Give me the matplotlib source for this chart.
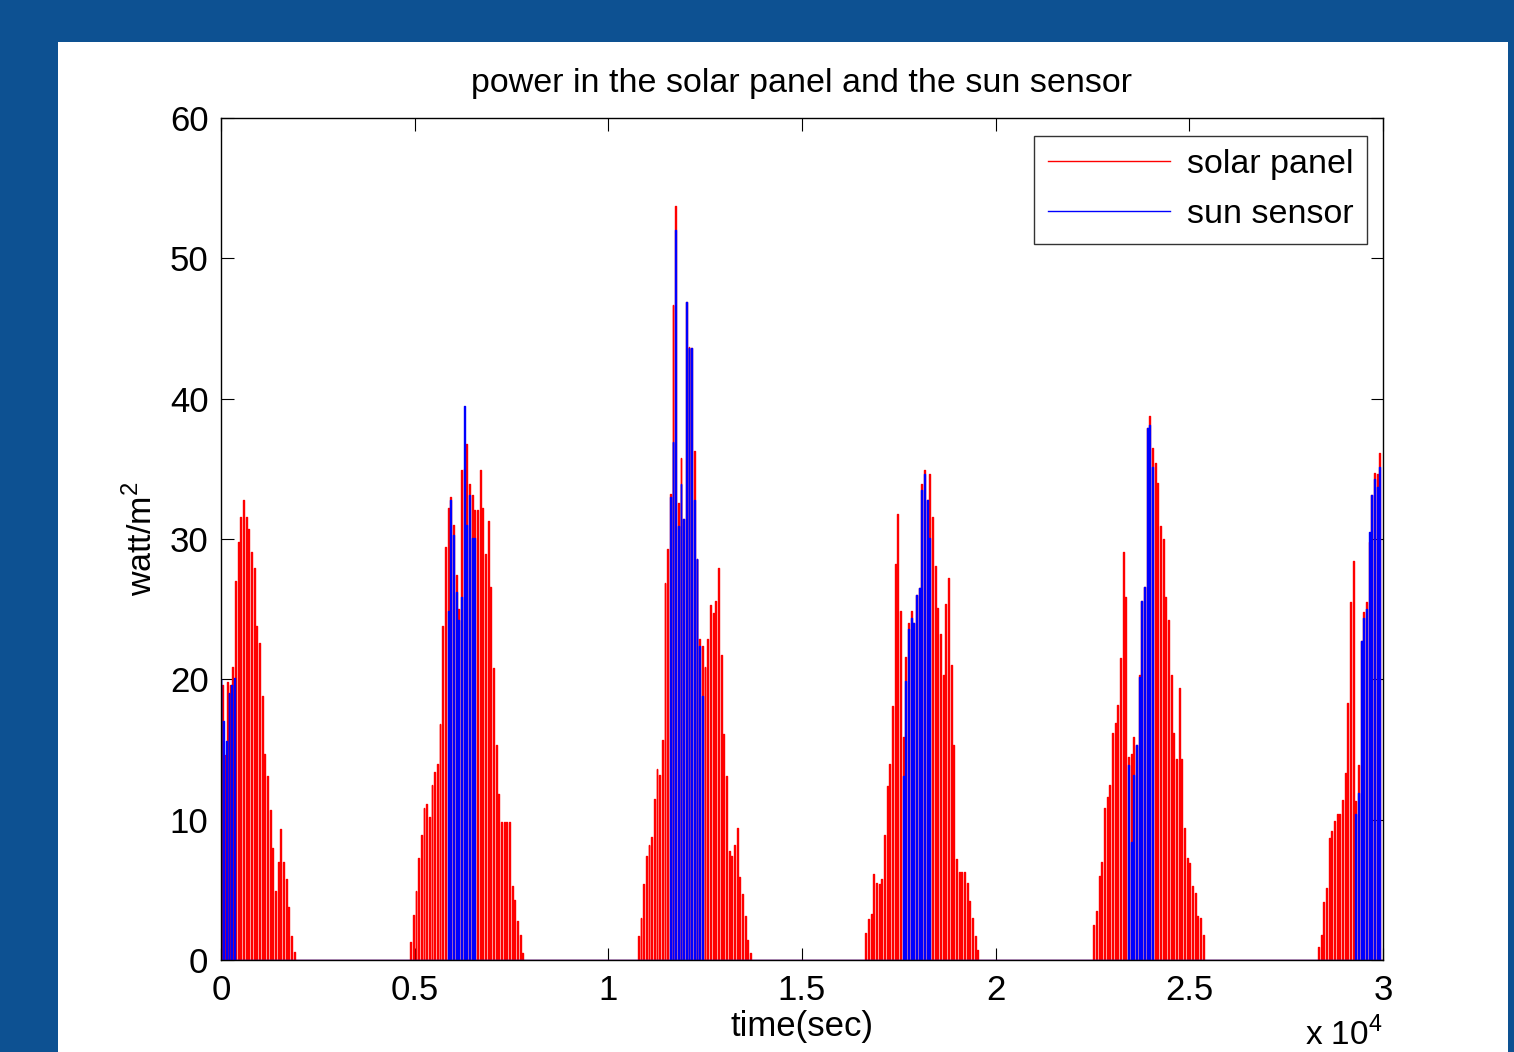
"""Solar panel / sun sensor power plot"""

from matplotlib import pyplot as plt
import numpy as np

# sample interval (s) of the spikes inside one pass
dt = 68.9

# start time (s) of the first red spike of each pass
red_t0 = [30, 4898, 10775, 16646, 22533, 28333]
red_peaks = [
    [19.6, 14.6, 19.8, 19.6, 20.9, 27.0, 29.8, 31.6, 32.8, 31.6, 30.7, 29.1,
     27.9, 23.8, 22.6, 18.8, 14.7, 13.1, 10.7, 8.0, 4.9, 7.0, 9.3, 7.0, 5.8,
     3.8, 1.7, 0.6],
    [1.3, 3.2, 4.9, 7.3, 8.9, 10.8, 11.1, 10.2, 12.5, 13.4, 14.0, 16.8, 23.8,
     29.4, 32.2, 33.0, 31.0, 27.4, 25.0, 34.9, 35.0, 36.8, 33.9, 33.1, 32.1,
     32.1, 34.9, 32.2, 28.9, 31.3, 26.6, 20.8, 15.3, 11.8, 9.8, 9.8, 9.8, 9.8,
     5.3, 4.3, 2.8, 1.8, 0.5],
    [1.7, 3.0, 5.4, 7.4, 8.2, 8.8, 11.5, 13.6, 13.2, 15.7, 26.9, 29.3, 33.2,
     46.7, 53.7, 32.6, 35.8, 31.4, 46.9, 43.7, 43.6, 36.3, 28.6, 22.9, 22.4,
     20.9, 22.9, 25.3, 24.7, 25.6, 27.9, 21.7, 16.1, 13.1, 7.8, 7.4, 8.2, 9.4,
     5.9, 4.7, 3.1, 1.4, 0.5],
    [1.9, 2.9, 3.3, 6.1, 5.5, 5.4, 5.8, 8.9, 12.4, 14.0, 18.1, 28.2, 31.8,
     24.9, 15.9, 21.6, 24.0, 24.9, 24.0, 26.0, 26.5, 33.9, 34.9, 32.8, 34.6,
     31.6, 28.1, 25.1, 23.2, 20.3, 25.4, 27.2, 21.0, 15.3, 7.2, 6.3, 6.3, 6.3,
     5.5, 4.2, 3.0, 1.7, 0.7],
    [2.5, 3.5, 6.0, 7.0, 10.8, 11.6, 12.5, 16.2, 16.9, 18.2, 21.5, 29.1, 25.9,
     14.5, 14.7, 15.9, 15.3, 20.3, 25.6, 26.6, 37.9, 38.8, 36.5, 35.4, 34.0,
     30.9, 30.0, 25.9, 24.2, 20.3, 16.2, 14.3, 19.4, 14.3, 9.4, 7.3, 6.9, 5.3,
     4.8, 3.1, 3.0, 1.8],
    [0.9, 1.8, 4.1, 5.1, 8.7, 9.2, 9.9, 10.4, 10.4, 11.4, 13.3, 18.3, 25.5,
     28.4, 11.3, 13.9, 22.7, 24.8, 25.5, 29.8, 33.1, 34.7, 34.6, 36.1],
]

# blue spikes start this many samples after the first red spike of the pass
blue_t0 = [0, 4898 + 14 * dt, 10775 + 12 * dt, 16646 + 14 * dt,
           22533 + 13 * dt, 28333 + 14 * dt]
blue_peaks = [
    [20.0, 17.0, 15.6, 19.0, 19.6, 20.1],
    [24.9, 32.8, 30.3, 26.2, 24.2, 25.9, 39.5, 31.0, 33.1, 30.1, 30.1],
    [33.0, 36.9, 52.0, 30.9, 33.9, 31.4, 46.9, 43.6, 43.6, 32.8, 28.6, 22.4,
     18.8],
    [13.1, 19.9, 23.6, 24.4, 24.0, 26.0, 26.5, 33.5, 34.6, 32.8, 30.1],
    [13.9, 8.4, 13.2, 15.3, 20.2, 25.6, 26.6, 37.9, 38.1, 35.1],
    [10.4, 11.9, 22.7, 24.4, 25.0, 30.5, 33.1, 34.3, 33.7, 35.1],
]

t_end = 30000


def pulse_series(starts, peaks, width=22.0):
    """Turn spike heights into a 0 -> peak -> 0 time series"""
    t = [0.0]
    y = [0.0]
    for t0, hs in zip(starts, peaks):
        for k, h in enumerate(hs):
            tc = t0 + k * dt
            t += [tc - width / 2, tc - width / 2, tc + width / 2,
                  tc + width / 2]
            y += [0.0, h, h, 0.0]
    t.append(t_end)
    y.append(0.0)
    t = np.clip(np.array(t), 0, t_end)
    return t, np.array(y)


def generate_plot():
    plt.rcParams['font.family'] = ['Liberation Sans', 'DejaVu Sans']
    plt.rcParams['mathtext.fontset'] = 'custom'
    plt.rcParams['mathtext.rm'] = 'Liberation Sans'
    fig = plt.figure(figsize=(15.14, 10.52), dpi=100)
    fig.patch.set_facecolor('#0d5192')
    # white sheet behind the plot
    bg = fig.add_axes([58 / 1514, 0, 1450 / 1514, 1010 / 1052], zorder=-5)
    bg.set_facecolor('white')
    bg.set_xticks([])
    bg.set_yticks([])
    for s in bg.spines.values():
        s.set_visible(False)

    ax = fig.add_axes([221 / 1514, 92 / 1052, 1162 / 1514, 842 / 1052])

    tr, yr = pulse_series(red_t0, red_peaks)
    tb, yb = pulse_series(blue_t0, blue_peaks)
    ax.plot(tr, yr, color='red', lw=1.0, label='solar panel')
    ax.plot(tb, yb, color='blue', lw=1.0, label='sun sensor')

    ax.set_xlim(0, 30000)
    ax.set_ylim(0, 60)
    ax.set_xticks(np.arange(0, 30001, 5000))
    ax.set_xticklabels(['0', '0.5', '1', '1.5', '2', '2.5', '3'])
    ax.set_yticks(np.arange(0, 61, 10))
    ax.tick_params(direction='in', top=True, right=True, length=9,
                   labelsize=25)
    ax.tick_params(axis='x', pad=10)
    ax.tick_params(axis='y', pad=9)
    for s in ax.spines.values():
        s.set_linewidth(1.0)

    ax.set_title('power in the solar panel and the sun sensor', fontsize=24.5,
                 pad=19)
    ax.set_xlabel('time(sec)', fontsize=25, labelpad=2)
    ax.set_ylabel(r'watt/m$^\mathrm{2}$', fontsize=24.5, labelpad=8)
    ax.text(1.0, -0.068, r'x 10$^\mathrm{4}$', transform=ax.transAxes,
            fontsize=24, ha='right', va='top')

    leg = ax.legend(loc='upper right', bbox_to_anchor=(0.9865, 0.979),
                    fontsize=24.5, frameon=True, fancybox=False,
                    handlelength=3.6, borderaxespad=0, borderpad=0.4,
                    handletextpad=0.5, labelspacing=0.55)
    leg.get_frame().set_edgecolor('black')
    leg.get_frame().set_linewidth(1.0)

    fig.savefig('out.png', dpi=100, facecolor=fig.get_facecolor())


if __name__ == '__main__':
    generate_plot()
